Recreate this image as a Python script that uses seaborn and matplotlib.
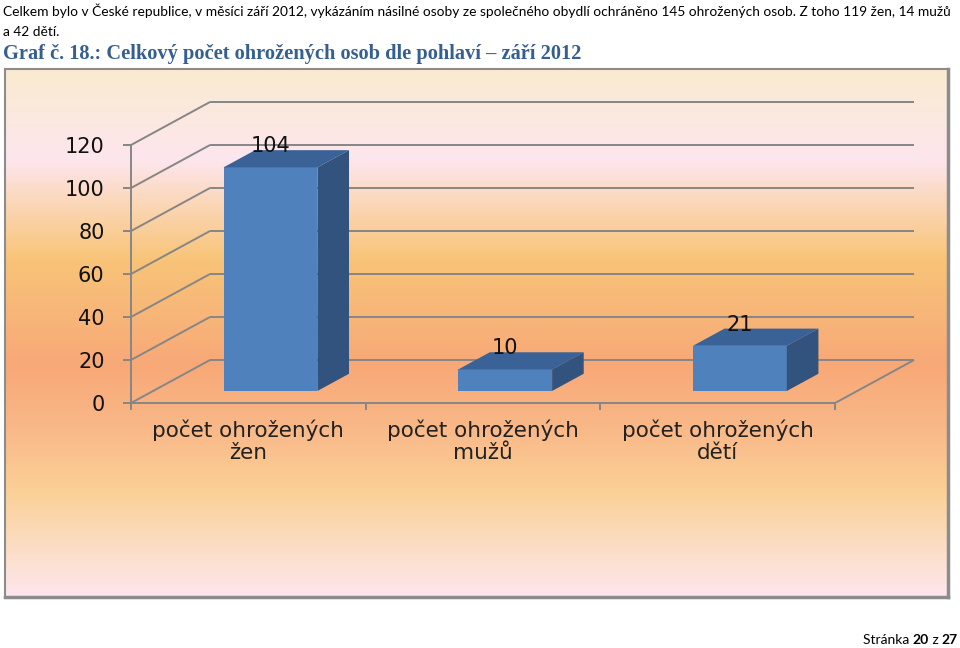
import numpy as np
import pandas as pd
import seaborn as sns
import matplotlib.pyplot as plt
from matplotlib.patches import Polygon
from matplotlib.colors import LinearSegmentedColormap

# data
categories = ["počet ohrožených\nžen", "počet ohrožených\nmužů", "počet ohrožených\ndětí"]
values = [104, 10, 21]
y_ticks = [0, 20, 40, 60, 80, 100, 120]

header_1 = ("Celkem bylo v České republice, v měsíci září 2012, vykázáním násilné osoby ze společného "
            "obydlí ochráněno 145 ohrožených osob. Z toho 119 žen, 14 mužů")
header_2 = "a 42 dětí."
caption = "Graf č. 18.: Celkový počet ohrožených osob dle pohlaví – září 2012"

df = pd.DataFrame({"kategorie": categories, "pocet": values})

W, H = 960, 648
sns.set_theme(style="white")
plt.rcParams["font.family"] = ["DejaVu Sans"]
fig = plt.figure(figsize=(W / 100, H / 100), dpi=100)


def px_box(x0, y0, x1, y1):
    # pixel box (top-left origin) -> figure fraction rect
    return [x0 / W, 1 - y1 / H, (x1 - x0) / W, (y1 - y0) / H]


# gradient background of the chart area
bg = fig.add_axes(px_box(5, 69, 948, 597))
stops = [(0.0, "#FAEBD0"), (0.17, "#FDE6EE"), (0.26, "#FBD6B4"), (0.36, "#F8C478"),
         (0.50, "#F7B178"), (0.56, "#F8A877"), (0.68, "#F9B888"), (0.80, "#FBD096"),
         (0.92, "#FCDFCB"), (1.0, "#FDE6EE")]
cmap = LinearSegmentedColormap.from_list("bg", stops)
bg.imshow(np.linspace(0, 1, 256)[:, None], aspect="auto", cmap=cmap, extent=(0, 1, 1, 0))
bg.set_xticks([])
bg.set_yticks([])
for s in bg.spines.values():
    s.set_color("#8C8C8C")
    s.set_linewidth(1.5)
bg.spines["right"].set_linewidth(2.5)
bg.spines["bottom"].set_linewidth(2.5)

# main axes (front plane in data coordinates)
ax = fig.add_axes(px_box(131, 90, 930, 403))
ax.patch.set_alpha(0)
sns.barplot(data=df, x="kategorie", y="pocet", ax=ax, width=0.4, color="#4F81BD",
            saturation=1, edgecolor="none", zorder=3)

px_x = 234.7   # px per category
px_y = 2.15    # px per unit
ax.set_xlim(-0.5, -0.5 + 799 / px_x)
ax.set_ylim(0, 313 / px_y)

DX, DY = 79 / px_x, 43 / px_y   # depth of floor (oblique projection)
f0, fd = 0.28, 0.40              # bar front depth, bar depth

grid_kw = dict(color="#868686", lw=1.4, zorder=1, solid_capstyle="butt")
n = len(categories)
for v in y_ticks:
    ax.plot([-0.5 + DX, n - 0.5 + DX], [v + DY, v + DY], **grid_kw)
    ax.plot([-0.5, -0.5 + DX], [v, v + DY], **grid_kw)
ax.plot([n - 0.5, n - 0.5 + DX], [0, DY], **grid_kw)

for p, v in zip(ax.patches, values):
    x0 = p.get_x() + f0 * DX
    y0 = f0 * DY
    w, h = p.get_width(), p.get_height()
    p.set_x(x0)
    p.set_y(y0)
    top = [(x0, y0 + h), (x0 + w, y0 + h), (x0 + w + fd * DX, y0 + h + fd * DY), (x0 + fd * DX, y0 + h + fd * DY)]
    side = [(x0 + w, y0), (x0 + w + fd * DX, y0 + fd * DY), (x0 + w + fd * DX, y0 + h + fd * DY), (x0 + w, y0 + h)]
    ax.add_patch(Polygon(top, closed=True, fc="#3B6297", ec="none", zorder=4))
    ax.add_patch(Polygon(side, closed=True, fc="#32537E", ec="none", zorder=4))
    ax.text(x0 + w / 2, y0 + h + fd * DY + 1.8, str(v), ha="center", va="center",
            fontsize=15, color="#111111", zorder=5)

# axes lines and ticks
for side_name in ["top", "right"]:
    ax.spines[side_name].set_visible(False)
for side_name in ["left", "bottom"]:
    ax.spines[side_name].set_color("#868686")
    ax.spines[side_name].set_linewidth(1.4)
ax.spines["left"].set_bounds(0, 120)
ax.spines["bottom"].set_bounds(-0.5, n - 0.5)

ax.set_yticks(y_ticks)
ax.set_yticklabels([str(t) for t in y_ticks])
ax.tick_params(axis="y", length=6, width=1.4, color="#868686", pad=13, labelsize=15,
               labelcolor="#111111", left=True)
ax.set_xticks(range(n))
ax.set_xticklabels(categories, linespacing=1.12)
ax.set_xticks(np.arange(-0.5, n), minor=True)
ax.tick_params(axis="x", which="major", length=0, pad=12, labelsize=15.5, labelcolor="#222222")
ax.tick_params(axis="x", which="minor", length=5, width=1.4, color="#868686", bottom=True)
ax.set_xlabel("")
ax.set_ylabel("")
ax.grid(False)

# page texts
fig.text(3 / W, 1 - 11 / H, header_1, fontsize=9.9, va="center", ha="left", family="Lato", color="black")
fig.text(3 / W, 1 - 32 / H, header_2, fontsize=9.9, va="center", ha="left", family="Lato", color="black")
fig.text(3 / W, 1 - 54 / H, caption, fontsize=14.7, va="center", ha="left",
         family="Liberation Serif", fontweight="bold", color="#365F91")

# footer "Stránka 20 z 27" with bold numbers, built right-to-left
renderer = fig.canvas.get_renderer()
x_right = 958
for txt, wt in [("27", "bold"), (" z ", "normal"), ("20", "bold"), ("Stránka ", "normal")]:
    t = fig.text(x_right / W, 1 - 640 / H, txt, fontsize=10, va="center", ha="right",
                 family="Lato", fontweight=wt, color="black")
    bb = t.get_window_extent(renderer)
    x_right = bb.x0

fig.savefig("out.png", dpi=100)
